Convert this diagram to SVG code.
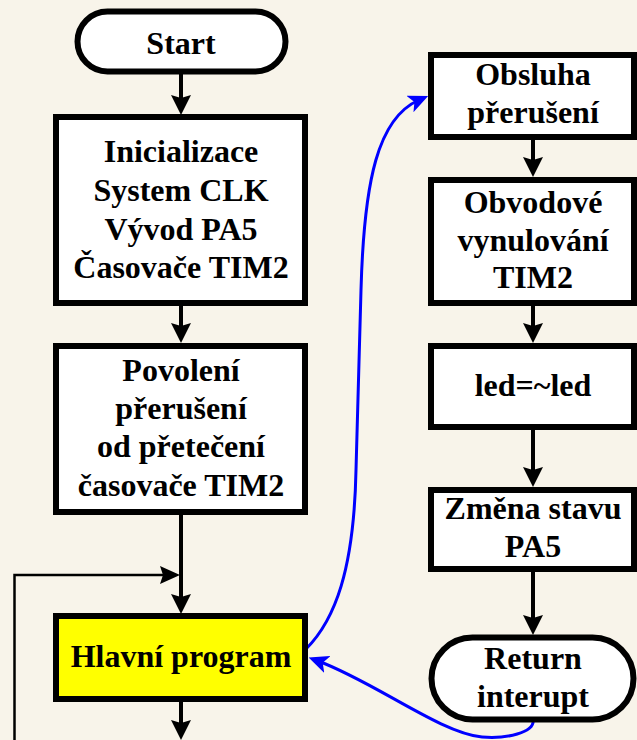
<svg xmlns="http://www.w3.org/2000/svg" width="637" height="740" viewBox="0 0 637 740">
  <defs>
    <style>
      .box { fill: #ffffff; stroke: #000000; stroke-width: 6; }
      .main { fill: #ffff00; }
      .lbl { font-family: 'Liberation Serif', serif; font-weight: bold; font-size: 32px; fill: #000000; text-anchor: middle; }
      .flow { fill: none; stroke: #000000; stroke-width: 4; }
      .loop { fill: none; stroke: #000000; stroke-width: 2.5; }
      .jump { fill: none; stroke: #0000ff; stroke-width: 3; stroke-linecap: round; }
    </style>
    <marker id="head" viewBox="0 0 20 20" refX="12" refY="10" markerWidth="20" markerHeight="20" markerUnits="userSpaceOnUse" orient="auto">
      <path d="M0,0 L20,10 L0,20 L3,10 z" fill="#000000"/>
    </marker>
    <marker id="headThin" viewBox="0 0 20 18" refX="12" refY="9" markerWidth="20" markerHeight="18" markerUnits="userSpaceOnUse" orient="auto">
      <path d="M0,0 L20,9 L0,18 L3,9 z" fill="#000000"/>
    </marker>
    <marker id="headBlue" viewBox="0 0 20 18" refX="10" refY="9" markerWidth="20" markerHeight="18" markerUnits="userSpaceOnUse" orient="auto">
      <path d="M0,0 L20,9 L0,18 L5,9 z" fill="#0000ff"/>
    </marker>
  </defs>

  <!-- paper background -->
  <rect x="0" y="0" width="637" height="740" fill="#f8f4ea"/>

  <!-- connectors -->
  <g id="connectors">
    <path class="flow" d="M181,74 V107" marker-end="url(#head)"/>
    <path class="flow" d="M181,306 V335" marker-end="url(#head)"/>
    <path class="flow" d="M181,515 V606" marker-end="url(#head)"/>
    <path class="flow" d="M181,702 V732" marker-end="url(#head)"/>
    <path class="loop" d="M14.5,742 V575 H172" marker-end="url(#headThin)"/>

    <path class="flow" d="M533,140 V169" marker-end="url(#head)"/>
    <path class="flow" d="M533,306 V335" marker-end="url(#head)"/>
    <path class="flow" d="M533,430 V479" marker-end="url(#head)"/>
    <path class="flow" d="M533,572 V627" marker-end="url(#head)"/>

    <path class="jump" d="M306,649 C335,620 354,570 356,470 L361,290 C364,180 378,118 419,100" marker-end="url(#headBlue)"/>
    <path class="jump" d="M533,719 C536,733 505,739 482,737 C440,733 375,682 318,661" marker-end="url(#headBlue)"/>
  </g>

  <!-- left column -->
  <g id="start">
    <rect class="box" x="77.5" y="11.5" width="208" height="60" rx="30" ry="30"/>
    <text class="lbl" x="181" y="54">Start</text>
  </g>

  <g id="init">
    <rect class="box" x="56" y="117" width="249" height="186"/>
    <text class="lbl" x="181" y="162">Inicializace</text>
    <text class="lbl" x="181" y="201">System CLK</text>
    <text class="lbl" x="181" y="240">Vývod PA5</text>
    <text class="lbl" x="181" y="278">Časovače TIM2</text>
  </g>

  <g id="enable-irq">
    <rect class="box" x="56" y="346" width="249" height="166"/>
    <text class="lbl" x="181" y="381">Povolení</text>
    <text class="lbl" x="181" y="419">přerušení</text>
    <text class="lbl" x="181" y="457">od přetečení</text>
    <text class="lbl" x="181" y="496">časovače TIM2</text>
  </g>

  <g id="main-loop">
    <rect class="box main" x="56" y="616" width="249" height="83"/>
    <text class="lbl" x="181" y="667">Hlavní program</text>
  </g>

  <!-- interrupt handler column -->
  <g id="isr">
    <rect class="box" x="431" y="55" width="203" height="82"/>
    <text class="lbl" x="533" y="85">Obsluha</text>
    <text class="lbl" x="533" y="123">přerušení</text>
  </g>

  <g id="clear-flag">
    <rect class="box" x="431" y="180" width="203" height="123"/>
    <text class="lbl" x="533" y="213">Obvodové</text>
    <text class="lbl" x="533" y="251">vynulování</text>
    <text class="lbl" x="533" y="288">TIM2</text>
  </g>

  <g id="toggle">
    <rect class="box" x="431" y="346" width="203" height="81"/>
    <text class="lbl" x="533" y="396">led=~led</text>
  </g>

  <g id="write-pin">
    <rect class="box" x="431" y="490" width="203" height="79"/>
    <text class="lbl" x="533" y="519">Změna stavu</text>
    <text class="lbl" x="533" y="557">PA5</text>
  </g>

  <g id="return">
    <rect class="box" x="431.5" y="637.5" width="202" height="82" rx="41" ry="41"/>
    <text class="lbl" x="533" y="669">Return</text>
    <text class="lbl" x="533" y="707">interupt</text>
  </g>
</svg>
